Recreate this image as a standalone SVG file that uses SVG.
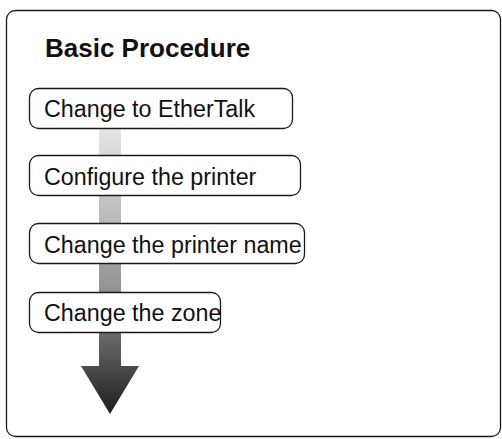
<svg xmlns="http://www.w3.org/2000/svg" width="502" height="439" viewBox="0 0 502 439">
<style>
.frame{fill:#fff;stroke:#1a1a1a;stroke-width:1.3}
.box{fill:#fff;stroke:#1a1a1a;stroke-width:1.3}
.lbl{font-family:"Liberation Sans",Arial,sans-serif;font-size:23.3px;fill:#111}
.title{font-family:"Liberation Sans",Arial,sans-serif;font-size:26px;font-weight:bold;fill:#111}
</style>
<defs>
<linearGradient id="g" gradientUnits="userSpaceOnUse" x1="0" y1="128" x2="0" y2="414">
<stop offset="0" stop-color="#e6e6e6"/>
<stop offset="0.3" stop-color="#bdbdbd"/>
<stop offset="0.55" stop-color="#959595"/>
<stop offset="0.8" stop-color="#555"/>
<stop offset="1" stop-color="#1e1e1e"/>
</linearGradient>
</defs>
<rect class="frame" x="6.5" y="10.5" width="494" height="426" rx="9"/>
<text class="title" x="45" y="56.5">Basic Procedure</text>
<g id="connectors">
<path d="M99,128 H121 V366 H139 L110,414 L81,366 H99 Z" fill="url(#g)"/>
</g>
<g id="n1"><rect class="box" x="29.5" y="88.5" width="263" height="40" rx="9"/><text class="lbl" x="44" y="117">Change to EtherTalk</text></g>
<g id="n2"><rect class="box" x="29.5" y="155.5" width="271" height="40" rx="9"/><text class="lbl" x="44" y="184.5">Configure the printer</text></g>
<g id="n3"><rect class="box" x="29.5" y="223.5" width="275" height="40" rx="9"/><text class="lbl" x="44" y="252.5">Change the printer name</text></g>
<g id="n4"><rect class="box" x="29.5" y="292.5" width="191" height="40" rx="9"/><text class="lbl" x="44" y="321">Change the zone</text></g>
</svg>
